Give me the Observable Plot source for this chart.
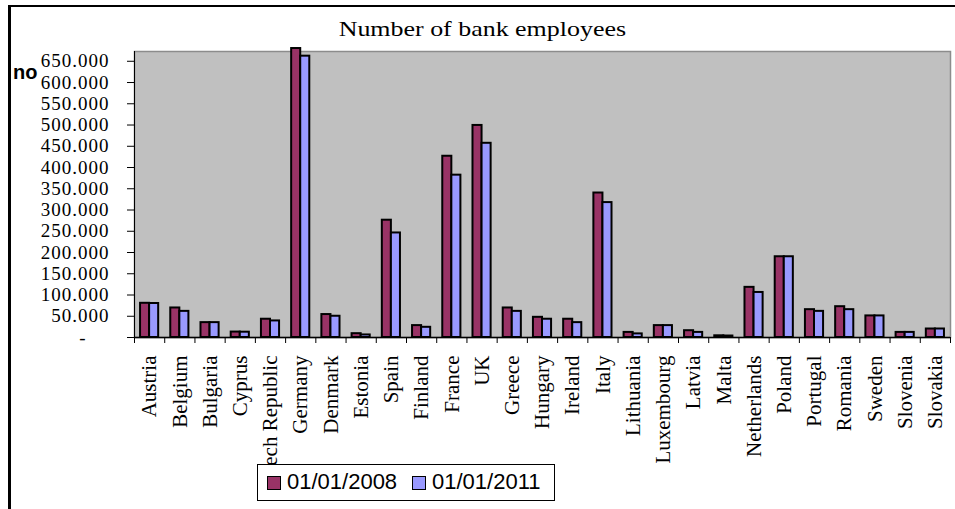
<!DOCTYPE html>
<html>
<head>
<meta charset="utf-8">
<script src="https://cdn.jsdelivr.net/npm/d3@7"></script>
<script src="https://cdn.jsdelivr.net/npm/@observablehq/plot@0.6"></script>
<style>
  html, body { margin: 0; padding: 0; background: #fff; overflow: hidden; }
  #wrap { position: relative; width: 955px; height: 509px; overflow: hidden; }
  #frame { position: absolute; left: 8px; top: 5px; width: 2000px; height: 2000px;
           border-left: 3px solid #000; border-top: 2px solid #000; box-sizing: border-box; }
  #title { position: absolute; left: 0; top: 19px; width: 964px; text-align: center;
           font-family: "Liberation Serif", "Times New Roman", serif; font-size: 21px; line-height: 21px; }
  #title span { display: inline-block; transform: scaleX(1.235); transform-origin: center; }
  #ylabel { position: absolute; left: 13px; top: 62px; font-family: "Liberation Sans", Arial, sans-serif;
            font-weight: bold; font-size: 20px; line-height: 20px; }
  #chart { position: absolute; left: 0; top: 0; }
  #legend { position: absolute; left: 257px; top: 464px; width: 298px; height: 37px; box-sizing: border-box;
            border: 1px solid #000; background: #fff; font-family: "Liberation Sans", Arial, sans-serif; }
  #legend .sw { position: absolute; top: 11px; width: 14px; height: 14px; box-sizing: border-box; border: 1px solid #000; }
  #legend .tx { position: absolute; top: 6px; font-size: 22px; line-height: 22px; white-space: nowrap; }
</style>
</head>
<body>
<div id="wrap">
  <div id="frame"></div>
  <div id="chart"></div>
  <div id="title"><span>Number of bank employees</span></div>
  <div id="ylabel">no</div>
  <div id="legend"></div>
</div>
<script>
const countries = ["Austria","Belgium","Bulgaria","Cyprus","Czech Republic","Germany","Denmark","Estonia","Spain","Finland","France","UK","Greece","Hungary","Ireland","Italy","Lithuania","Luxembourg","Latvia","Malta","Netherlands","Poland","Portugal","Romania","Sweden","Slovenia","Slovakia"];
const emp2008 = [80500, 69500, 35000, 12800, 43000, 680000, 54000, 9000, 276000, 28000, 426500, 499000, 69500, 47500, 43000, 340000, 12000, 28000, 16000, 4000, 118000, 190000, 65500, 72500, 50800, 12000, 20000];
const emp2011 = [80000, 61500, 35000, 12500, 39000, 662000, 50000, 6000, 246000, 24000, 382000, 457000, 61500, 43000, 35000, 317500, 8500, 28000, 12000, 3500, 106000, 190000, 61500, 65500, 50800, 12000, 20000];
const seriesNames = ["01/01/2008", "01/01/2011"];
const seriesColors = ["#993366", "#9999FF"];
const yTicks = [0, 50000, 100000, 150000, 200000, 250000, 300000, 350000, 400000, 450000, 500000, 550000, 600000, 650000];

const rows = countries.flatMap((c, i) => [
  {country: c, series: seriesNames[0], value: emp2008[i]},
  {country: c, series: seriesNames[1], value: emp2011[i]}
]);

const W = 955, H = 509, ML = 134, MR = 5, MT = 51, MB = H - 337;
const padInner = 0.4, padOuter = 0.2;
const step = (W - ML - MR) / (countries.length - padInner + 2 * padOuter);
const bw = step * (1 - padInner);

const loc = d3.formatLocale({decimal: ",", thousands: ".", grouping: [3], currency: ["", ""]});
const fmt = loc.format(",.0f");
const yFmt = d => d === 0 ? "-\u00a0\u00a0\u00a0\u00a0" : fmt(d);
const serif = "Liberation Serif, Times New Roman, serif";

const chart = Plot.plot({
  width: W, height: H,
  marginLeft: ML, marginRight: MR, marginTop: MT, marginBottom: MB,
  style: {background: "transparent", color: "black", overflow: "hidden"},
  x: {type: "band", domain: countries, paddingInner: padInner, paddingOuter: padOuter, align: 0.5, round: false, axis: null, label: null},
  y: {domain: [0, 673000], axis: null, label: null},
  color: {domain: seriesNames, range: seriesColors},
  marks: [
    Plot.frame({fill: "#C0C0C0", stroke: "#8c8c8c", strokeWidth: 1.5}),
    Plot.barY(rows.filter(d => d.series === seriesNames[0]), {x: "country", y: "value", fill: "series", stroke: "black", strokeWidth: 2, insetRight: bw / 2}),
    Plot.barY(rows.filter(d => d.series === seriesNames[1]), {x: "country", y: "value", fill: "series", stroke: "black", strokeWidth: 2, insetLeft: bw / 2}),
    Plot.ruleY([0], {stroke: "black", strokeWidth: 1.5}),
    Plot.ruleX([countries[0]], {x: d => d, dx: -step / 2, stroke: "black", strokeWidth: 1}),
    Plot.axisY(yTicks, {label: null, tickSize: 7, tickPadding: 18, tickFormat: yFmt, fontSize: 19, fontFamily: serif, stroke: "black", fill: "black"}),
    Plot.axisX(countries, {label: null, tickSize: 6, tickFormat: () => "", dx: -step / 2, stroke: "black"}),
    Plot.axisX([countries[countries.length - 1]], {label: null, tickSize: 6, tickFormat: () => "", dx: step / 2, stroke: "black"}),
    Plot.axisX(countries, {label: null, tickSize: 0, tickPadding: 18, tickRotate: -90, fontSize: 21, fontFamily: serif, fill: "black"})
  ]
});
document.getElementById("chart").appendChild(chart);
d3.select(chart).selectAll("g[aria-label='y-axis tick label'] text").style("letter-spacing", "1px");

const legend = document.getElementById("legend");
const swLeft = [9, 154], txLeft = [29, 174];
seriesNames.forEach((s, i) => {
  const sw = document.createElement("div");
  sw.className = "sw"; sw.style.left = swLeft[i] + "px"; sw.style.background = seriesColors[i];
  const tx = document.createElement("div");
  tx.className = "tx"; tx.style.left = txLeft[i] + "px"; tx.textContent = s;
  legend.appendChild(sw); legend.appendChild(tx);
});
</script>
</body>
</html>
